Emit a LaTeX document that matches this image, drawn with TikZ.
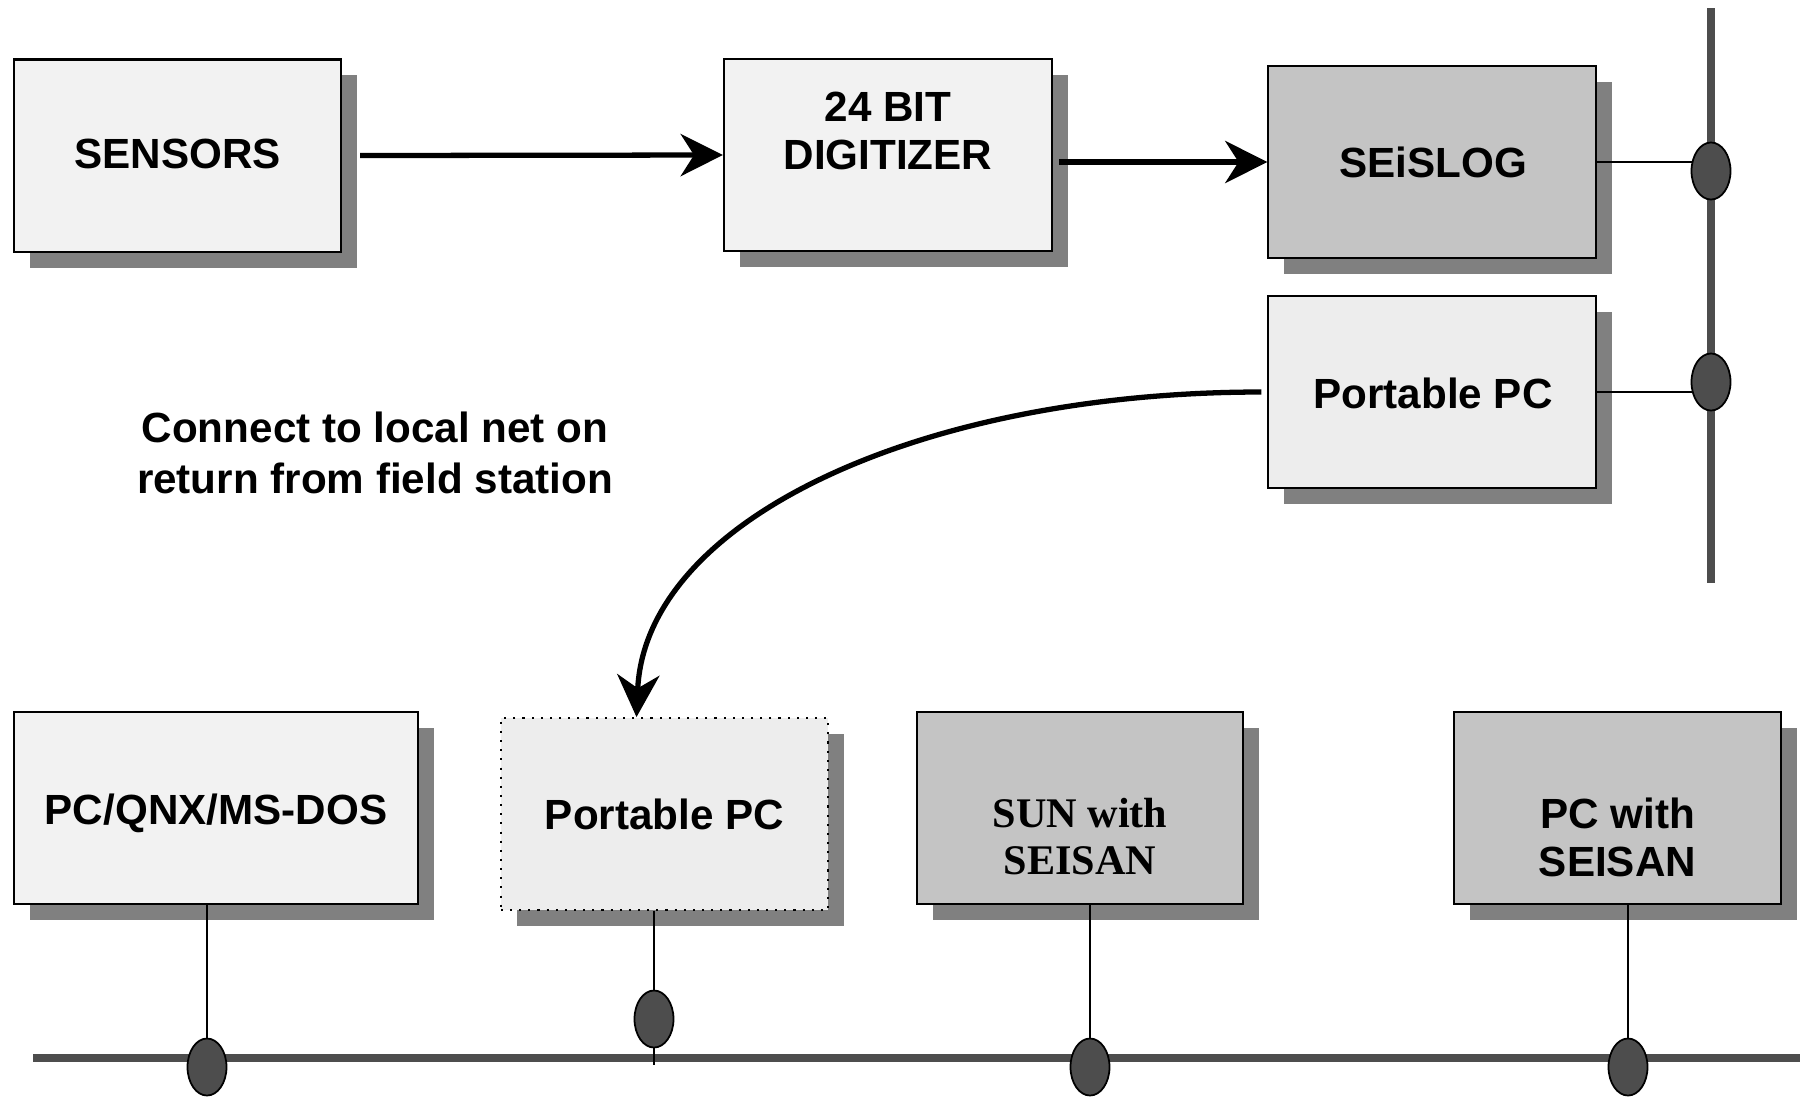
\documentclass[tikz,border=0pt]{standalone}
\usepackage{fontspec}
\setmainfont{Liberation Sans}
\newfontfamily\timesfont{Liberation Serif}
\usetikzlibrary{arrows.meta,shadows,calc,shapes.geometric}
\definecolor{boxlight}{HTML}{F2F2F2}
\definecolor{boxdark}{HTML}{C4C4C4}
\definecolor{shadowgray}{HTML}{808080}
\definecolor{busgray}{HTML}{4D4D4D}
\pgfdeclarelayer{fg}
\pgfsetlayers{main,fg}
\begin{document}
\begin{tikzpicture}[x=0.01cm,y=-0.01cm,
  box/.style={draw=black, line width=0.6pt, rectangle, minimum height=1.92cm, inner sep=0pt,
    drop shadow={shadow xshift=0.16cm, shadow yshift=-0.16cm, fill=shadowgray, opacity=1}},
  lightbox/.style={box, fill=boxlight},
  darkbox/.style={box, fill=boxdark},
  lbl/.style={font=\fontsize{12}{13.6}\selectfont\bfseries, align=center, anchor=base, inner sep=0pt},
  serlbl/.style={lbl, font=\fontsize{12}{13.3}\selectfont\timesfont\bfseries},
  dot/.style={ellipse, draw=black, line width=0.5pt, fill=busgray, minimum width=0.39cm, minimum height=0.57cm, inner sep=0pt},
  bus/.style={draw=busgray, line width=2.1pt},
  conn/.style={draw=black, line width=0.45pt},
  arr/.style={draw=black, line width=1.5pt, -{Stealth[length=12pt,width=12pt,inset=3.8pt]}}
]
\fill[white] (0,0) rectangle (1800,1096);
\useasboundingbox (0,0) rectangle (1800,1096);

% boxes
\node[lightbox, minimum width=3.27cm] (sensors) at (177.5,155.5) {};
\node[lightbox, minimum width=3.28cm] (digit) at (888,155) {};
\node[darkbox, minimum width=3.27cm] (seislog) at (1432,162) {};
\node[lightbox, fill=boxlight!98!black, minimum width=3.27cm] (ptop) at (1432,392) {};
\node[lightbox, minimum width=4.04cm] (pcqnx) at (216,808) {};
\node[box, fill=boxlight!98!black, dotted, line width=0.5pt, minimum width=3.27cm] (pbot) at (664.5,814) {};
\node[darkbox, minimum width=3.26cm] (sun) at (1080,808) {};
\node[darkbox, minimum width=3.27cm] (pcw) at (1617.5,808) {};

% labels
\node[lbl] (sensors-t) at (177.5,168) {SENSORS};
\node[lbl] (digit-t) at (888,169) {24 BIT\\DIGITIZER};
\node[lbl] (seislog-t) at (1433,177) {SEiSLOG};
\node[lbl] (ptop-t) at (1433,408) {Portable PC};
\node[lbl] (pcqnx-t) at (216,824) {PC/QNX/MS-DOS};
\node[lbl] (pbot-t) at (664.5,829) {Portable PC};
\node[serlbl] (sun-t) at (1080,874) {SUN with\\SEISAN};
\node[lbl] (pcw-t) at (1617.5,876) {PC with\\SEISAN};
\node[lbl, font=\fontsize{12}{14.3}\selectfont\bfseries] (note) at (375,493) {Connect to local net on\\return from field station};

% network taps (drawn on top)
\begin{pgfonlayer}{fg}
\node[dot] (e1) at (1711,171) {};
\node[dot] (e2) at (1711,382) {};
\node[dot] (e3) at (207,1067) {};
\node[dot] (e4) at (654,1019) {};
\node[dot] (e5) at (1090,1067) {};
\node[dot] (e6) at (1628,1067) {};
\end{pgfonlayer}

% bus lines
\coordinate (vtop) at (1711,8);
\coordinate (vbot) at (1711,583);
\coordinate (hleft) at (33,1058);
\coordinate (hright) at (1800,1058);
\draw[bus] (vtop) -- (vbot);
\draw[bus] (hleft) -- (hright);

% drop lines
\draw[conn] (seislog.east) -- (seislog.east -| e1.center);
\draw[conn] (ptop.east) -- (ptop.east -| e2.center);
\draw[conn] (e3.center |- pcqnx.south) -- (e3.center);
\coordinate (pend) at (654,1065);
\draw[conn] (e4.center |- pbot.south) -- (pend);
\draw[conn] (e5.center |- sun.south) -- (e5.center);
\draw[conn] (e6.center |- pcw.south) -- (e6.center);

% arrows
\draw[arr] ($(sensors.east)+(18,0)$) -- (digit.west);
\draw[arr] ($(digit.east |- seislog.west)+(6,0)$) -- (seislog.west);
\coordinate (ptip) at ($(pbot.north)+(-28,0)$);
\draw[arr] ($(ptop.west)+(-6,0)$) .. controls (920,392) and (645,520) .. (ptip);
\end{tikzpicture}
\end{document}
